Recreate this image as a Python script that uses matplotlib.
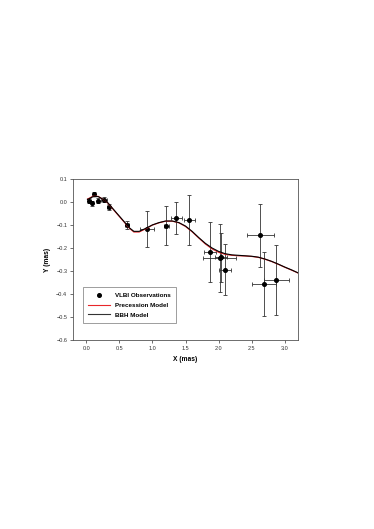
import matplotlib
matplotlib.use('Agg')
import matplotlib.pyplot as plt
from matplotlib.lines import Line2D
from matplotlib.ticker import FuncFormatter

plt.rcParams['font.family'] = ['Liberation Sans', 'DejaVu Sans']

# VLBI observations
obs_x = [0.05, 0.09, 0.12, 0.18, 0.27, 0.34, 0.615, 0.92, 1.21, 1.36, 1.56, 1.87, 2.02, 2.03, 2.10, 2.63, 2.69, 2.87]
obs_y = [0.005, -0.007, 0.033, 0.005, 0.010, -0.022, -0.100, -0.118, -0.104, -0.070, -0.079, -0.218, -0.242, -0.240, -0.294, -0.145, -0.357, -0.340]
obs_xerr = [0.02, 0.02, 0.02, 0.02, 0.04, 0.02, 0.03, 0.11, 0.04, 0.085, 0.085, 0.094, 0.25, 0.09, 0.09, 0.20, 0.18, 0.19]
obs_yerr = [0.010, 0.010, 0.008, 0.010, 0.010, 0.012, 0.018, 0.080, 0.085, 0.070, 0.110, 0.130, 0.147, 0.107, 0.112, 0.137, 0.140, 0.152]

# model curves
model_x = [0.02, 0.1, 0.18, 0.25, 0.33, 0.45, 0.58, 0.65, 0.72, 0.8, 0.9, 1.0, 1.1, 1.2, 1.3, 1.4, 1.5,
           1.6, 1.7, 1.8, 1.9, 2.0, 2.1, 2.2, 2.3, 2.4, 2.5, 2.6, 2.7, 2.8, 2.9, 3.0, 3.1, 3.2]
bbh_y = [0.010, 0.022, 0.023, 0.012, -0.005, -0.045, -0.088, -0.112, -0.128, -0.128, -0.115, -0.100,
         -0.090, -0.083, -0.083, -0.090, -0.105, -0.128, -0.155, -0.180, -0.200, -0.215, -0.225, -0.230,
         -0.232, -0.234, -0.236, -0.240, -0.248, -0.258, -0.270, -0.283, -0.295, -0.308]
prec_y = [0.012, 0.024, 0.024, 0.012, -0.006, -0.047, -0.090, -0.114, -0.131, -0.131, -0.117, -0.101,
          -0.091, -0.084, -0.084, -0.091, -0.107, -0.130, -0.157, -0.183, -0.204, -0.219, -0.228, -0.232,
          -0.234, -0.235, -0.237, -0.241, -0.249, -0.259, -0.271, -0.284, -0.296, -0.309]

fig = plt.figure(figsize=(3.74, 5.29), dpi=100)
ax = fig.add_axes([0.195, 0.357, 0.602, 0.305])

ax.errorbar(obs_x, obs_y, xerr=obs_xerr, yerr=obs_yerr, fmt='o', color='black', ecolor='#333333',
            elinewidth=0.6, capsize=1.5, capthick=0.6, markersize=2.6, zorder=3)
ax.plot(model_x, prec_y, color='#e8262a', lw=0.8, zorder=4)
ax.plot(model_x, bbh_y, color='black', lw=0.8, zorder=5)

ax.set_xlim(-0.2, 3.2)
ax.set_ylim(-0.6, 0.1)
ax.set_xticks([0.0, 0.5, 1.0, 1.5, 2.0, 2.5, 3.0])
ax.set_yticks([0.1, 0.0, -0.1, -0.2, -0.3, -0.4, -0.5, -0.6])
fmt = FuncFormatter(lambda v, p: ('%.1f' % v).replace('-', '\u2212') if abs(v) > 1e-9 else '0.0')
ax.xaxis.set_major_formatter(fmt)
ax.yaxis.set_major_formatter(fmt)
ax.tick_params(labelsize=4.0, length=2, width=0.5, direction='out', pad=2, colors='#333333', labelcolor='#333333')
for s in ax.spines.values():
    s.set_linewidth(0.6)
    s.set_color('#555555')

ax.set_xlabel('X (mas)', fontsize=4.8, fontweight='bold', labelpad=4)
ax.set_ylabel('Y (mas)', fontsize=4.8, fontweight='bold', labelpad=4)

handles = [Line2D([], [], marker='o', ls='none', color='black', markersize=2.6),
           Line2D([], [], color='#e8262a', lw=0.8),
           Line2D([], [], color='#333333', lw=0.8)]
labels = ['VLBI Observations', 'Precession Model', 'BBH Model']
leg = ax.legend(handles, labels, loc='lower left', bbox_to_anchor=(0.044, 0.105), fontsize=4.5, frameon=True,
                fancybox=False, edgecolor='#555555', handlelength=3.4, borderpad=0.9, labelspacing=0.7,
                handletextpad=0.8, borderaxespad=0)
leg.get_frame().set_linewidth(0.5)
for t in leg.get_texts():
    t.set_fontweight('bold')

fig.savefig('out.png', dpi=100)
